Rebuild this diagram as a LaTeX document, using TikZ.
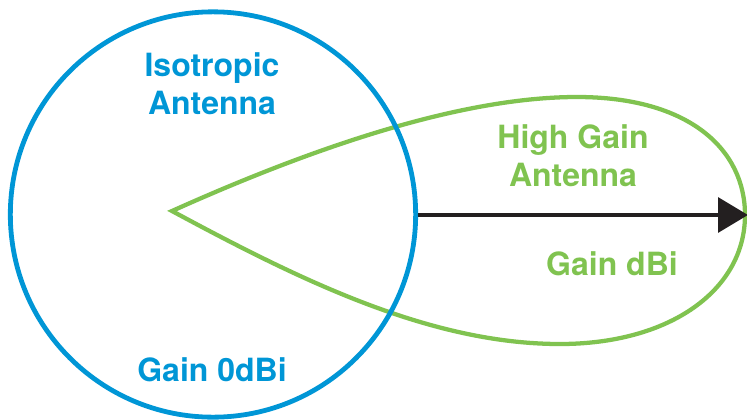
\documentclass[tikz,border=0pt]{standalone}
\usepackage{fontspec}
\setmainfont{TeX Gyre Heros}
\usetikzlibrary{arrows.meta}
\definecolor{isoblue}{RGB}{0,150,214}
\definecolor{gaingreen}{RGB}{128,195,80}
\definecolor{arrowblack}{RGB}{35,31,32}
\begin{document}
\begin{tikzpicture}[x=0.75pt, y=-0.75pt,
    txt/.style={font=\fontsize{24}{28.5}\selectfont\bfseries, align=center, inner sep=0pt}]
    \useasboundingbox (0,0) rectangle (747,419);

    % high gain lobe
    \coordinate (tip) at (172,211);
    \draw[gaingreen, line width=3.2pt, line join=miter]
        (tip) .. controls (330,140) and (470,97) .. (577,97)
        .. controls (690,97) and (745,150) .. (745,215)
        .. controls (745,290) and (670,344) .. (560,344)
        .. controls (430,344) and (300,280) .. (tip) -- cycle;

    % isotropic circle
    \node[draw=isoblue, circle, line width=3.6pt, minimum size=304pt, inner sep=0pt] (iso) at (213,214.5) {};

    % gain direction
    \coordinate (head) at (748,215);
    \draw[arrowblack, line width=3.4pt, -{Triangle[length=22.5pt, width=26pt]}] (iso.east |- head) -- (head);

    \node[txt, text=isoblue] (isolabel) at (212,84) {Isotropic\\Antenna};
    \node[txt, text=isoblue, anchor=base] (isogain) at (212,381) {Gain 0dBi};
    \node[txt, text=gaingreen] (hglabel) at (573,156) {High Gain\\Antenna};
    \node[txt, text=gaingreen, anchor=base] (hggain) at (612,275) {Gain dBi};
\end{tikzpicture}
\end{document}
